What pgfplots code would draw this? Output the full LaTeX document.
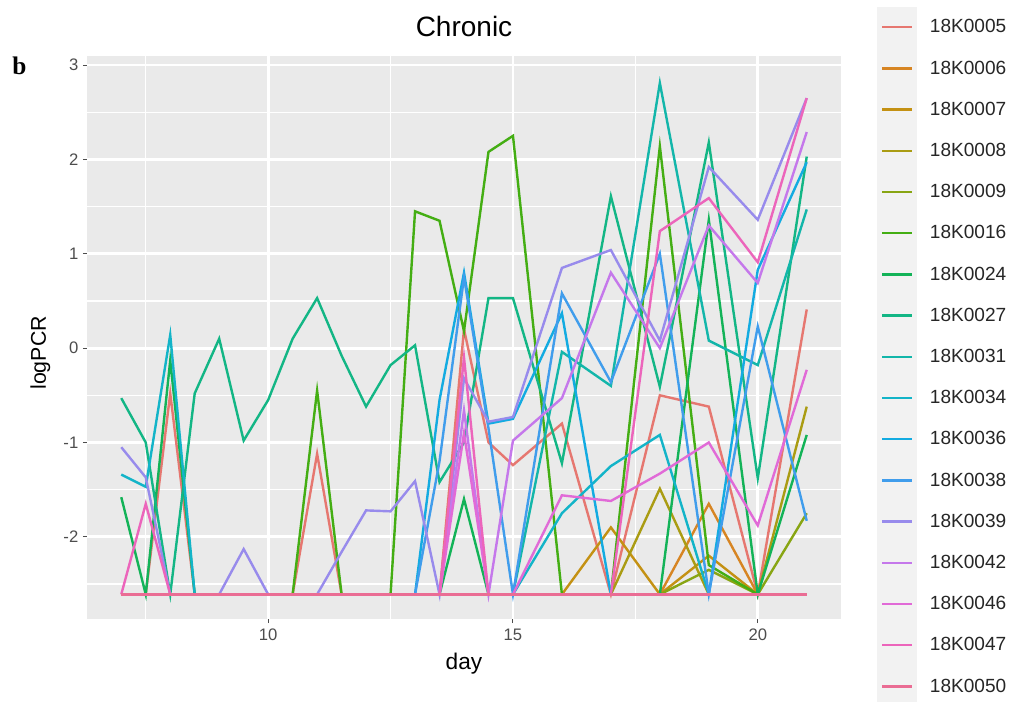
\documentclass[border=0pt]{standalone}
\usepackage{pgfplots}
\usepackage{pgfplotstable}
\pgfplotsset{compat=1.18}
\usepackage{fontspec}
\setmainfont{Liberation Sans}
\newfontfamily\serifb{Liberation Serif}

\definecolor{panelgray}{HTML}{EAEAEA}
\definecolor{keygray}{HTML}{F2F2F2}
\definecolor{tickgray}{HTML}{4D4D4D}
% ggplot hue palette, 17 groups (slightly toned down)
\definecolor{h05}{HTML}{F8766D}
\definecolor{h06}{HTML}{E68613}
\definecolor{h07}{HTML}{D09400}
\definecolor{h08}{HTML}{B2A100}
\definecolor{h09}{HTML}{89AC00}
\definecolor{h16}{HTML}{39B600}
\definecolor{h24}{HTML}{00BC51}
\definecolor{h27}{HTML}{00C086}
\definecolor{h31}{HTML}{00C0B1}
\definecolor{h34}{HTML}{00BDD5}
\definecolor{h36}{HTML}{00B3F2}
\definecolor{h38}{HTML}{35A2FF}
\definecolor{h39}{HTML}{9C8DFF}
\definecolor{h42}{HTML}{D177FE}
\definecolor{h46}{HTML}{F266E7}
\definecolor{h47}{HTML}{FF61C6}
\definecolor{h50}{HTML}{FD6A98}
\colorlet{c05}{h05!85!gray}
\colorlet{c06}{h06!85!gray}
\colorlet{c07}{h07!85!gray}
\colorlet{c08}{h08!85!gray}
\colorlet{c09}{h09!85!gray}
\colorlet{c16}{h16!85!gray}
\colorlet{c24}{h24!85!gray}
\colorlet{c27}{h27!85!gray}
\colorlet{c31}{h31!85!gray}
\colorlet{c34}{h34!85!gray}
\colorlet{c36}{h36!85!gray}
\colorlet{c38}{h38!85!gray}
\colorlet{c39}{h39!85!gray}
\colorlet{c42}{h42!85!gray}
\colorlet{c46}{h46!85!gray}
\colorlet{c47}{h47!85!gray}
\colorlet{c50}{h50!85!gray}

% logPCR by day for each chronic case (-2.61 = below detection)
\pgfplotstableread{
day  a05   a06   a07   a08   a09   a16   a24   a27   a31   a34   a36   a38   a39   a42   a46   a47   a50
7    -2.61 -2.61 -2.61 -2.61 -2.61 -2.61 -1.58 -0.53 -2.61 -1.34 -2.61 -2.61 -1.05 -2.61 -2.61 -2.61 -2.61
7.5  -2.61 -2.61 -2.61 -2.61 -2.61 -2.61 -2.61 -1.00 -2.61 -1.47 -2.61 -2.61 -1.37 -2.61 -2.61 -1.65 -2.61
8    -0.48 -2.61 -2.61 -2.61 -2.61 -2.61 -0.13 -2.61 -2.61  0.14 -2.61 -2.61 -2.61 -2.61 -2.61 -2.61 -2.61
8.5  -2.61 -2.61 -2.61 -2.61 -2.61 -2.61 -2.61 -0.48 -2.61 -2.61 -2.61 -2.61 -2.61 -2.61 -2.61 -2.61 -2.61
9    -2.61 -2.61 -2.61 -2.61 -2.61 -2.61 -2.61  0.10 -2.61 -2.61 -2.61 -2.61 -2.61 -2.61 -2.61 -2.61 -2.61
9.5  -2.61 -2.61 -2.61 -2.61 -2.61 -2.61 -2.61 -0.98 -2.61 -2.61 -2.61 -2.61 -2.13 -2.61 -2.61 -2.61 -2.61
10   -2.61 -2.61 -2.61 -2.61 -2.61 -2.61 -2.61 -0.55 -2.61 -2.61 -2.61 -2.61 -2.61 -2.61 -2.61 -2.61 -2.61
10.5 -2.61 -2.61 -2.61 -2.61 -2.61 -2.61 -2.61  0.10 -2.61 -2.61 -2.61 -2.61 -2.61 -2.61 -2.61 -2.61 -2.61
11   -1.12 -2.61 -2.61 -2.61 -2.61 -0.45 -2.61  0.53 -2.61 -2.61 -2.61 -2.61 -2.61 -2.61 -2.61 -2.61 -2.61
11.5 -2.61 -2.61 -2.61 -2.61 -2.61 -2.61 -2.61 -0.08 -2.61 -2.61 -2.61 -2.61 -2.16 -2.61 -2.61 -2.61 -2.61
12   -2.61 -2.61 -2.61 -2.61 -2.61 -2.61 -2.61 -0.62 -2.61 -2.61 -2.61 -2.61 -1.72 -2.61 -2.61 -2.61 -2.61
12.5 -2.61 -2.61 -2.61 -2.61 -2.61 -2.61 -2.61 -0.18 -2.61 -2.61 -2.61 -2.61 -1.73 -2.61 -2.61 -2.61 -2.61
13   -2.61 -2.61 -2.61 -2.61 -2.61  1.45 -2.61  0.03 -2.61 -2.61 -2.61 -2.61 -1.41 -2.61 -2.61 -2.61 -2.61
13.5 -2.61 -2.61 -2.61 -2.61 -2.61  1.35 -2.61 -1.42 -2.61 -2.61 -0.55 -1.20 -2.61 -2.61 -2.61 -2.61 -2.61
14    0.20 -2.61 -2.61 -2.61 -2.61  0.18 -1.60 -1.00 -2.61 -2.61  0.80  0.75 -0.32 -0.66 -0.90 -0.10 -2.61
14.5 -1.00 -2.61 -2.61 -2.61 -2.61  2.08 -2.61  0.53 -2.61 -2.61 -0.80 -0.85 -0.78 -2.61 -2.61 -2.61 -2.61
15   -1.24 -2.61 -2.61 -2.61 -2.61  2.25 -2.61  0.53 -2.61 -2.61 -0.75 -2.61 -0.73 -0.98 -2.61 -2.61 -2.61
16   -0.80 -2.61 -2.61 -2.61 -2.61 -2.61 -2.61 -1.22 -0.04 -1.75  0.37  0.58  0.85 -0.53 -1.56 -2.61 -2.61
17   -2.61 -2.61 -1.90 -2.61 -2.61 -2.61 -2.61  1.61 -0.40 -1.25 -2.61 -0.36  1.04  0.80 -1.62 -2.61 -2.61
18   -0.50 -2.61 -2.61 -1.49 -2.61  2.14 -2.61 -0.41  2.81 -0.92 -2.61  1.00  0.08  0.00 -1.33  1.24 -2.61
19   -0.62 -1.65 -2.20 -2.61 -2.35 -2.30  1.36  2.18  0.08 -2.61 -2.61 -2.61  1.92  1.30 -1.00  1.59 -2.61
20   -2.61 -2.61 -2.61 -2.61 -2.61 -2.61 -2.61 -1.38 -0.18 -2.61  0.83  0.23  1.36  0.69 -1.88  0.91 -2.61
21    0.41 -2.61 -2.61 -0.62 -1.75 -2.61 -0.92  2.03  1.47 -2.61  1.97 -1.83  2.65  2.29 -0.23  2.65 -2.61
}\pcrdata

\begin{document}
\begin{tikzpicture}
\useasboundingbox (-65.25pt,-62.25pt) rectangle (696.75pt,464.25pt);
\clip (-65.25pt,-62.25pt) rectangle (696.75pt,464.25pt);
\begin{axis}[
  scale only axis,
  width=565.5pt, height=421.875pt,
  xmin=6.3, xmax=21.7, ymin=-2.871, ymax=3.091,
  axis background/.style={fill=panelgray},
  axis line style={draw=none},
  xtick={10,15,20}, ytick={-2,-1,0,1,2,3},
  minor xtick={7.5,12.5,17.5},
  minor ytick={-2.5,-1.5,-0.5,0.5,1.5,2.5},
  tick pos=left,
  grid=both,
  major grid style={white, line width=2.1pt},
  minor grid style={white, line width=1.0pt},
  tick align=outside,
  major tick length=3pt, minor tick length=0pt,
  tick style={tickgray, line width=0.8pt},
  /pgf/number format/assume math mode=true,
  ticklabel style={font=\fontsize{12.5}{12.5}\selectfont, text=tickgray},
  xticklabel style={yshift=-1pt},
  title={Chronic},
  every axis title shift=0pt,
  title style={at={(axis description cs:0.5,1.035)}, anchor=base,
    font=\fontsize{21}{21}\selectfont},
  xlabel={day},
  xlabel style={at={(axis description cs:0.5,-0.09)}, anchor=base,
    font=\fontsize{17}{17}\selectfont},
  ylabel={logPCR},
  ylabel style={at={(axis description cs:-0.0545,0.473)}, anchor=base,
    font=\fontsize{16}{16}\selectfont},
  every axis plot/.append style={line width=1.8pt},
  legend cell align=left,
  legend image code/.code={
    \path[fill=keygray, draw=none] (0pt,-15.45pt) rectangle (30pt,15.45pt);
    \draw[#1] (3.75pt,0pt) -- (26.25pt,0pt);
  },
  legend style={at={(axis description cs:1.0477,1.0891)}, anchor=north west,
    draw=none, fill=none, inner xsep=0pt, inner ysep=0pt,
    row sep=0pt, column sep=9.5pt,
    nodes={inner sep=0pt, font=\fontsize{14.3}{14.3}\selectfont, text=black!85}},
]
\addplot[c05] table[x=day, y=a05] {\pcrdata};
\addlegendentry{18K0005}
\addplot[c06] table[x=day, y=a06] {\pcrdata};
\addlegendentry{18K0006}
\addplot[c07] table[x=day, y=a07] {\pcrdata};
\addlegendentry{18K0007}
\addplot[c08] table[x=day, y=a08] {\pcrdata};
\addlegendentry{18K0008}
\addplot[c09] table[x=day, y=a09] {\pcrdata};
\addlegendentry{18K0009}
\addplot[c16] table[x=day, y=a16] {\pcrdata};
\addlegendentry{18K0016}
\addplot[c24] table[x=day, y=a24] {\pcrdata};
\addlegendentry{18K0024}
\addplot[c27] table[x=day, y=a27] {\pcrdata};
\addlegendentry{18K0027}
\addplot[c31] table[x=day, y=a31] {\pcrdata};
\addlegendentry{18K0031}
\addplot[c34] table[x=day, y=a34] {\pcrdata};
\addlegendentry{18K0034}
\addplot[c36] table[x=day, y=a36] {\pcrdata};
\addlegendentry{18K0036}
\addplot[c38] table[x=day, y=a38] {\pcrdata};
\addlegendentry{18K0038}
\addplot[c39] table[x=day, y=a39] {\pcrdata};
\addlegendentry{18K0039}
\addplot[c42] table[x=day, y=a42] {\pcrdata};
\addlegendentry{18K0042}
\addplot[c46] table[x=day, y=a46] {\pcrdata};
\addlegendentry{18K0046}
\addplot[c47] table[x=day, y=a47] {\pcrdata};
\addlegendentry{18K0047}
\addplot[c50] table[x=day, y=a50] {\pcrdata};
\addlegendentry{18K0050}
\end{axis}
\node[anchor=base west, inner sep=0pt, font=\serifb\bfseries\fontsize{19}{19}\selectfont]
  at (-56.25pt,408pt) {b};
\end{tikzpicture}
\end{document}
